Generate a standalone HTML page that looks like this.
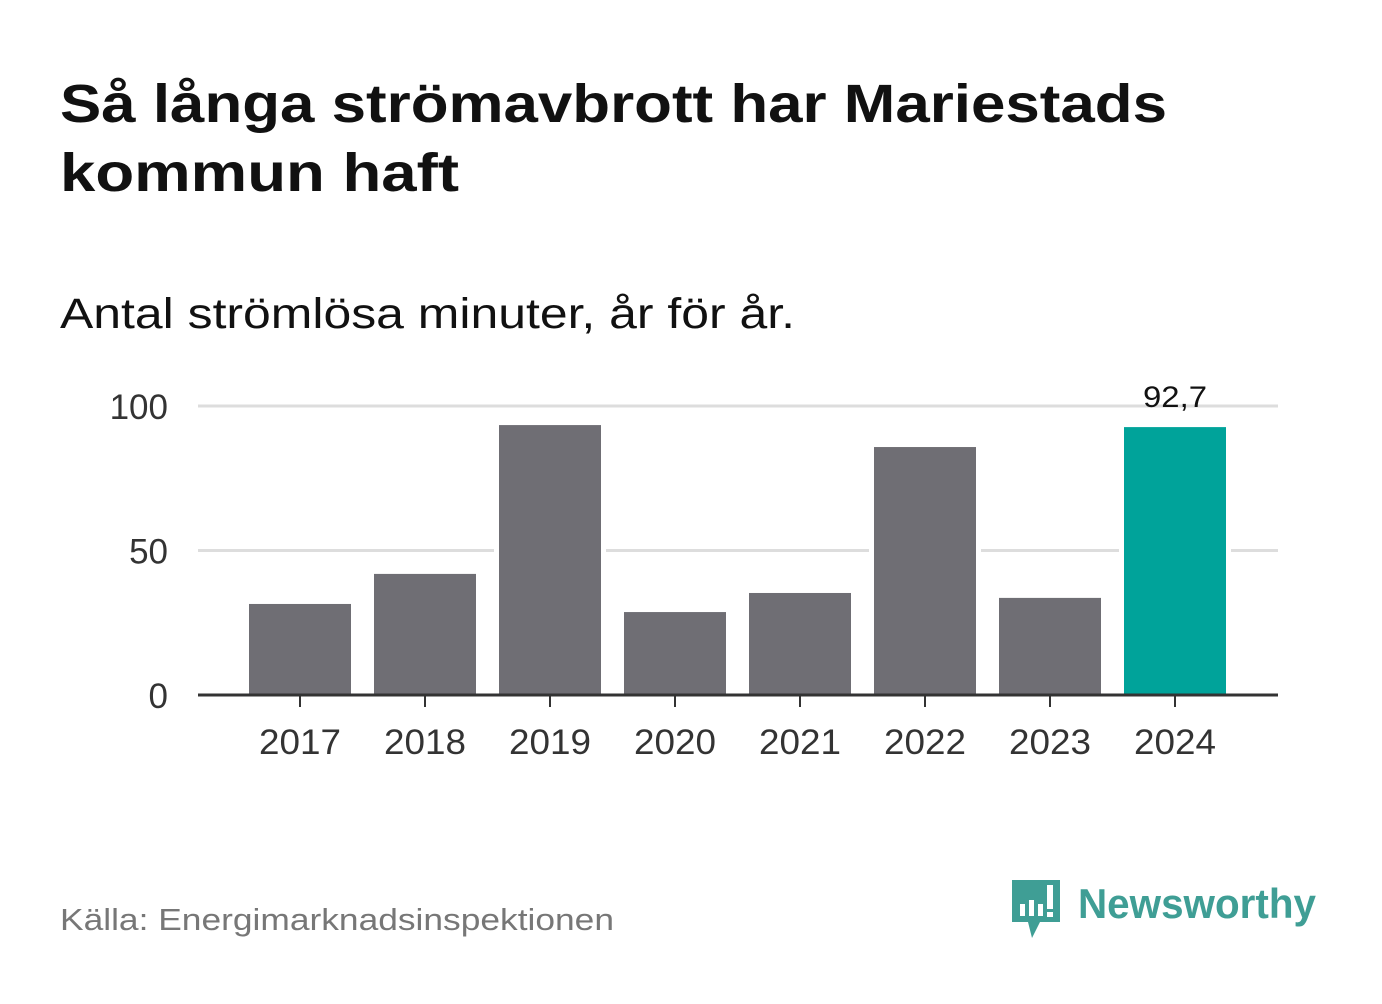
<!DOCTYPE html>
<html><head><meta charset="utf-8"><style>
body{margin:0;width:1382px;height:999px;background:#fff;font-family:"Liberation Sans",sans-serif;overflow:hidden}
</style></head><body>
<svg width="1382" height="999" xmlns="http://www.w3.org/2000/svg">
<text x="60" y="122" font-size="54" font-weight="bold" fill="#111" textLength="1107" lengthAdjust="spacingAndGlyphs">Så långa strömavbrott har Mariestads</text>
<text x="60" y="191" font-size="54" font-weight="bold" fill="#111" textLength="399" lengthAdjust="spacingAndGlyphs">kommun haft</text>
<text x="60" y="328" font-size="43" fill="#111" textLength="735" lengthAdjust="spacingAndGlyphs">Antal strömlösa minuter, år för år.</text>
<g id="plot"></g>
<text x="60" y="930" font-size="31" fill="#777" textLength="554" lengthAdjust="spacingAndGlyphs">Källa: Energimarknadsinspektionen</text>
<g>
<path d="M1012 880 h48 v42 h-20 l-8 16 l-4 -16 h-16 z" fill="#3f9e95"/>
<rect x="1020" y="904" width="5" height="12" fill="#fff"/><rect x="1029" y="900" width="5" height="16" fill="#fff"/><rect x="1038" y="904" width="5" height="12" fill="#fff"/><rect x="1047" y="885" width="6" height="24" fill="#fff"/><rect x="1047" y="912" width="6" height="5" fill="#fff"/>
<text x="1078" y="918" font-size="42" font-weight="bold" fill="#3f9e95" textLength="238" lengthAdjust="spacingAndGlyphs">Newsworthy</text>
</g>
</svg>
<script>
const years=["2017","2018","2019","2020","2021","2022","2023","2024"];
const values=[31.5,41.9,93.4,28.7,35.3,85.8,33.6,92.7];
const yTicks=[0,50,100];
const labelText="92,7";
const NS="http://www.w3.org/2000/svg";
const g=document.getElementById("plot");
const x0=198,x1=1278,y0=695,yScale=2.89,step=125,bw=102,first=300;
const y=v=>y0-v*yScale;
const xc=i=>first+i*step;
function mk(t,a){const e=document.createElementNS(NS,t);for(const k in a)e.setAttribute(k,a[k]);g.appendChild(e);return e;}
yTicks.forEach(t=>{
 if(t>0){const l=mk("line",{x1:x0,x2:x1,y1:y(t),y2:y(t),stroke:"#ddd","stroke-width":3});
 
 }
 const tx=mk("text",{x:168,y:y(t)+13,"text-anchor":"end","font-size":35,fill:"#333"});tx.textContent=t;
 
 
});
values.forEach((v,i)=>{
 const r=mk("rect",{x:xc(i)-bw/2,y:y(v),width:bw,height:v*yScale,fill:i==values.length-1?"#00a39a":"#6f6e74",stroke:"#fff","stroke-width":10,"paint-order":"stroke"});
 
 
 const tk=mk("line",{x1:xc(i),x2:xc(i),y1:y0,y2:y0+12,stroke:"#333","stroke-width":2});
 
 
 const t=mk("text",{x:xc(i),y:y0+59,"text-anchor":"middle","font-size":35,fill:"#333",textLength:82,lengthAdjust:"spacingAndGlyphs"});t.textContent=years[i];
 
 
});
const li=values.length-1;
const vl=mk("text",{x:xc(li),y:y(values[li])-20,"text-anchor":"middle","font-size":30,fill:"#111",textLength:64,lengthAdjust:"spacingAndGlyphs"});vl.textContent=labelText;


const ax=mk("line",{x1:x0,x2:x1,y1:y0,y2:y0,stroke:"#333","stroke-width":3});


</script>
</body></html>
